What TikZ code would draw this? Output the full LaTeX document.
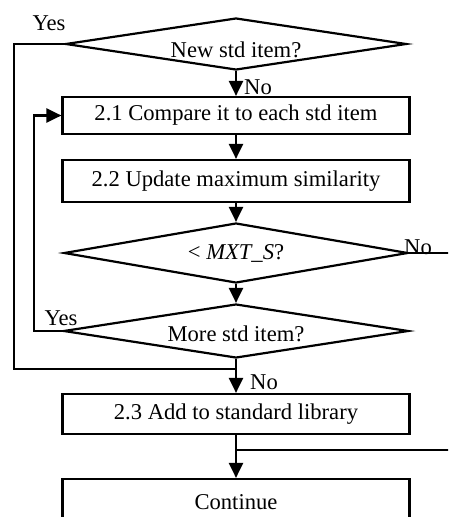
\documentclass[tikz,border=0pt]{standalone}
\usepackage{fontspec}
\setmainfont{Liberation Serif}
\usetikzlibrary{shapes.geometric,arrows.meta}

\tikzset{
  every node/.style={font=\fontsize{22.6}{26}\selectfont},
  stepbox/.style={draw, line width=2.2pt, rectangle, minimum width=347pt, inner sep=0pt},
  decision/.style={draw, line width=2.2pt, diamond, inner sep=0pt, aspect=6.5},
  flow/.style={line width=2.2pt, -{Triangle[width=14pt,length=15pt]}},
  link/.style={line width=2.2pt},
  thinlink/.style={line width=1.4pt},
  tag/.style={inner sep=0pt}
}

\begin{document}
\begin{tikzpicture}[x=1pt,y=-1pt]
  \useasboundingbox (0,0) rectangle (448,517);
  \clip (0,0) rectangle (448,517);
  \fill[white] (0,0) rectangle (448,517);

  % decisions and steps
  \node[decision, minimum width=341pt, minimum height=52pt, text height=27pt, text depth=0pt] (newitem) at (236,44) {New std item?};
  \node[stepbox, minimum height=37pt] (compare) at (236,115.5) {2.1 Compare it to each std item};
  \node[stepbox, minimum height=42pt] (update) at (236,181) {2.2 Update maximum similarity};
  \node[decision, minimum width=344pt, minimum height=60pt] (thresh) at (236,253) {{<} \textit{MXT\_S}?};
  \node[decision, minimum width=345pt, minimum height=54pt, text height=21pt, text depth=0pt] (more) at (236,331) {More std item?};
  \node[stepbox, minimum height=40pt] (addlib) at (236,414) {2.3 Add to standard library};
  \node[stepbox, minimum height=46pt] (cont) at (236,502) {Continue};

  % route points
  \coordinate (yesA) at (14,44);
  \coordinate (yesB) at (14,369);
  \coordinate (merge) at (236,369);
  \coordinate (loopA) at (34,331);
  \coordinate (loopB) at (34,115.5);
  \coordinate (noA) at (470,253);
  \coordinate (noB) at (470,450);
  \coordinate (join) at (236,450);

  % main flow
  \draw[flow] (newitem.south) -- (compare.north);
  \draw[flow] (compare.south) -- (update.north);
  \draw[flow] (update.south) -- (thresh.north);
  \draw[flow] (thresh.south) -- (more.north);
  \draw[flow] (more.south) -- (addlib.north);
  \draw[flow] (addlib.south) -- (cont.north);

  % branches
  \draw[link] (newitem.west) -- (yesA) -- (yesB) -- (merge);
  \draw[flow] (more.west) -- (loopA) -- (loopB) -- (compare.west);
  \draw[thinlink] (thresh.east) -- (noA) -- (noB) -- (join);

  % branch labels
  \node[tag] (lyes1) at (49,23) {Yes};
  \node[tag, anchor=west] (lno1) at (244,87) {No};
  \node[tag, anchor=west] (lno2) at (404,247) {No};
  \node[tag] (lyes2) at (61,318) {Yes};
  \node[tag, anchor=west] (lno3) at (250,382) {No};
\end{tikzpicture}
\end{document}
